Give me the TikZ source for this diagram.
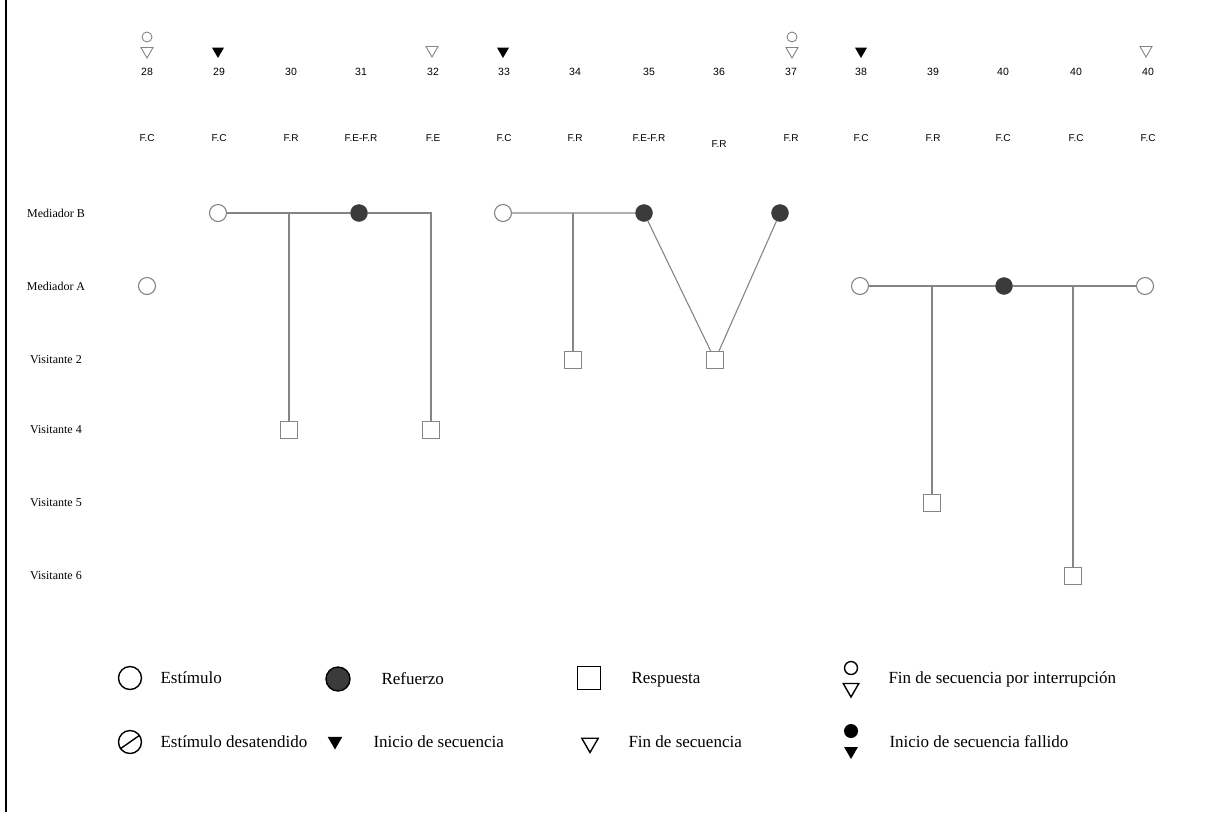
\documentclass[tikz,border=0pt]{standalone}
\usepackage{fontspec}
\setmainfont{Liberation Serif}
\newfontfamily\cabfont{Liberation Sans}
\usepackage{tikz}
\usetikzlibrary{shapes.geometric, positioning}

\definecolor{linea}{HTML}{858585}
\definecolor{oscuro}{HTML}{3B3B3B}

\tikzset{
  estimulo/.style={circle, draw=linea, line width=1.1pt, fill=white, minimum size=17pt, inner sep=0pt},
  refuerzo/.style={circle, draw=oscuro, fill=oscuro, minimum size=17pt, inner sep=0pt},
  respuesta/.style={rectangle, draw=linea, line width=1.1pt, fill=white, minimum size=17pt, inner sep=0pt},
  enlace/.style={draw=linea, line width=1.1pt},
  numero/.style={font=\cabfont\fontsize{10.5}{12}\selectfont},
  fase/.style={font=\cabfont\fontsize{10}{12}\selectfont},
  fila/.style={font=\fontsize{12}{14}\selectfont},
  inicio/.style={regular polygon, regular polygon sides=3, shape border rotate=180, fill=black, minimum size=14pt, inner sep=0pt},
  fin/.style={regular polygon, regular polygon sides=3, shape border rotate=180, draw=linea, line width=0.9pt, minimum size=14pt, inner sep=0pt},
  corte/.style={circle, draw=linea, line width=0.9pt, minimum size=10pt, inner sep=0pt},
  leytexto/.style={anchor=base west, font=\fontsize{17}{20}\selectfont},
  leysimb/.style={draw=black, line width=1.4pt, inner sep=0pt}
}

\begin{document}
\begin{tikzpicture}[x=1pt, y=-1pt]
    \useasboundingbox (0,0) rectangle (1209,815);
    \draw[line width=2pt] (6,0) -- (6,812);

    % Cabecera: sesion y fase
    \foreach \x/\num/\fs/\yf [count=\i] in {147/28/F.C/138, 219/29/F.C/138, 291/30/F.R/138, 361/31/F.E-F.R/138, 433/32/F.E/138, 504/33/F.C/138, 575/34/F.R/138, 649/35/F.E-F.R/138, 719/36/F.R/144, 791/37/F.R/138, 861/38/F.C/138, 933/39/F.R/138, 1003/40/F.C/138, 1076/40/F.C/138, 1148/40/F.C/138}{
        \node[numero] (num\i) at (\x,72) {\num};
        \node[fase] (fase\i) at (\x,\yf) {\fs};
    }

    % Marcas de secuencia
    \node[corte] (c28) at (147,37) {};
    \node[fin] (f28) at (147,51) {};
    \node[inicio] (i29) at (218,51) {};
    \node[fin] (f32) at (432,50) {};
    \node[inicio] (i33) at (503,51) {};
    \node[corte] (c37) at (792,37) {};
    \node[fin] (f37) at (792,51) {};
    \node[inicio] (i38) at (861,51) {};
    \node[fin] (f40) at (1146,50) {};

    % Filas
    \foreach \y/\nombre/\id in {213/Mediador B/mb, 286/Mediador A/ma, 360/Visitante 2/v2, 430/Visitante 4/v4, 503/Visitante 5/v5, 576/Visitante 6/v6}
        \node[fila] (\id) at (56,\y) {\nombre};

    % Secuencia 28
    \node[estimulo] (a28) at (147,286) {};

    % Secuencia 29--32
    \node[estimulo] (b29) at (218,213) {};
    \node[refuerzo] (b31) at (359,213) {};
    \coordinate (b32) at (431,213);
    \node[respuesta] (r30) at (289,430) {};
    \node[respuesta] (r32) at (431,430) {};
    \draw[enlace] (b29) -- (b31) -- (b32) -- (r32);
    \draw[enlace] (r30) -- (r30 |- b29);

    % Secuencia 33--37
    \node[estimulo] (b33) at (503,213) {};
    \node[refuerzo] (b35) at (644,213) {};
    \node[refuerzo] (b37) at (780,213) {};
    \node[respuesta] (r34) at (573,360) {};
    \node[respuesta] (r36) at (715,360) {};
    \draw[enlace] (b33) -- (b35) -- (r36) -- (b37);
    \draw[enlace] (r34) -- (r34 |- b33);

    % Secuencia 38--40
    \node[estimulo] (a38) at (860,286) {};
    \node[refuerzo] (a40) at (1004,286) {};
    \node[estimulo] (a40b) at (1145,286) {};
    \node[respuesta] (r39) at (932,503) {};
    \node[respuesta] (r40) at (1073,576) {};
    \draw[enlace] (a38) -- (a40) -- (a40b);
    \draw[enlace] (r39) -- (r39 |- a38);
    \draw[enlace] (r40) -- (r40 |- a38);

    % Leyenda
    \node[leysimb, circle, minimum size=23pt] (lestim) at (130,678) {};
    \node[leytexto] at (157,683) {Estímulo};
    \node[leysimb, circle, fill=oscuro, minimum size=24pt] (lrefu) at (338,679) {};
    \node[leytexto] at (378,684) {Refuerzo};
    \node[leysimb, rectangle, minimum size=23pt] (lresp) at (589,678) {};
    \node[leytexto] at (628,683) {Respuesta};
    \node[leysimb, circle, minimum size=13pt] (lcorte) at (851,668) {};
    \node[leysimb, regular polygon, regular polygon sides=3, shape border rotate=180, minimum size=18pt] (lcfin) at (851,688) {};
    \node[leytexto] at (885,683) {Fin de secuencia por interrupción};

    \node[leysimb, circle, minimum size=23pt] (ldes) at (130,742) {};
    \draw[line width=1.4pt] (ldes.215) -- (ldes.35);
    \node[leytexto] at (157,747) {Estímulo desatendido};
    \node[inicio, minimum size=17pt] (lini) at (335,741) {};
    \node[leytexto] at (370,747) {Inicio de secuencia};
    \node[leysimb, regular polygon, regular polygon sides=3, shape border rotate=180, minimum size=19pt] (lfin) at (590,743) {};
    \node[leytexto] at (625,747) {Fin de secuencia};
    \node[circle, fill=black, minimum size=14pt, inner sep=0pt] (lfall) at (851,731) {};
    \node[inicio, minimum size=16pt] (lfalli) at (851,751) {};
    \node[leytexto] at (886,747) {Inicio de secuencia fallido};
\end{tikzpicture}
\end{document}
